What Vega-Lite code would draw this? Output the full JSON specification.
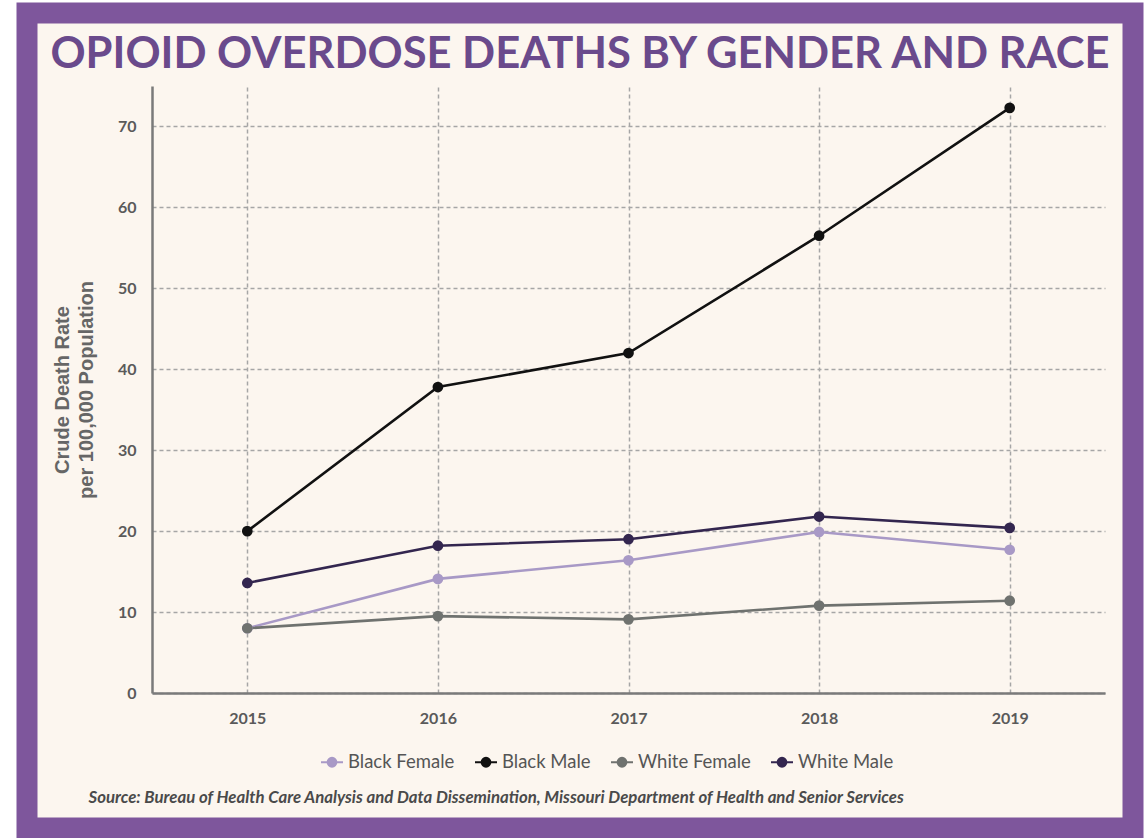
{
  "$schema": "https://vega.github.io/schema/vega-lite/v6.json",
  "autosize": {"type": "none"},
  "width": 1106,
  "height": 815,
  "padding": {"left": 27, "top": 13, "right": 14, "bottom": 10},
  "background": "#ffffff",
  "title": {
    "text": "OPIOID OVERDOSE DEATHS BY GENDER AND RACE",
    "orient": "top",
    "anchor": "middle",
    "dx": 0,
    "offset": -64,
    "font": "Lato",
    "fontSize": 43.5,
    "fontWeight": "bold",
    "color": "#6a4a8c"
  },
  "data": {
    "values": [
      {"year": "2015", "group": "Black Female", "rate": 8.0},
      {"year": "2016", "group": "Black Female", "rate": 14.1},
      {"year": "2017", "group": "Black Female", "rate": 16.4},
      {"year": "2018", "group": "Black Female", "rate": 19.9},
      {"year": "2019", "group": "Black Female", "rate": 17.7},
      {"year": "2015", "group": "Black Male", "rate": 20.0},
      {"year": "2016", "group": "Black Male", "rate": 37.8},
      {"year": "2017", "group": "Black Male", "rate": 42.0},
      {"year": "2018", "group": "Black Male", "rate": 56.5},
      {"year": "2019", "group": "Black Male", "rate": 72.3},
      {"year": "2015", "group": "White Female", "rate": 8.0},
      {"year": "2016", "group": "White Female", "rate": 9.5},
      {"year": "2017", "group": "White Female", "rate": 9.1},
      {"year": "2018", "group": "White Female", "rate": 10.8},
      {"year": "2019", "group": "White Female", "rate": 11.4},
      {"year": "2015", "group": "White Male", "rate": 13.6},
      {"year": "2016", "group": "White Male", "rate": 18.2},
      {"year": "2017", "group": "White Male", "rate": 19.0},
      {"year": "2018", "group": "White Male", "rate": 21.8},
      {"year": "2019", "group": "White Male", "rate": 20.4}
    ]
  },
  "encoding": {
    "y": {
      "field": "rate",
      "type": "quantitative",
      "scale": {"domain": [0, 75], "range": [680, 73], "nice": false, "zero": true},
      "axis": {
        "orient": "left",
        "offset": -125,
        "values": [0, 10, 20, 30, 40, 50, 60, 70],
        "labelFont": "Lato",
        "labelFontWeight": "bold",
        "labelFontSize": 16,
        "labelColor": "#5a5a5a",
        "labelPadding": 16,
        "ticks": false,
        "domainColor": "#7a7a7a",
        "domainWidth": 2.5,
        "grid": true,
        "gridColor": "#a6a6a6",
        "gridDash": [4, 3],
        "gridWidth": 1.5,
        "title": ["Crude Death Rate", "per 100,000 Population"],
        "titleFont": "Liberation Sans",
        "titleFontWeight": "bold",
        "titleFontSize": 20,
        "titleColor": "#666666",
        "titlePadding": 21,
        "titleLineHeight": 24
      }
    }
  },
  "layer": [
    {
      "mark": {"type": "point", "opacity": 0},
      "encoding": {
        "x": {
          "field": "year",
          "type": "ordinal",
          "scale": {"type": "point", "range": [125, 1078], "padding": 0.5},
          "axis": {
            "orient": "top",
            "grid": true,
            "gridColor": "#a6a6a6",
            "gridDash": [4, 3],
            "gridWidth": 1.5,
            "labels": false,
            "ticks": false,
            "domain": false,
            "title": null
          }
        }
      }
    },
    {
      "mark": {"type": "line", "strokeWidth": 2.6, "point": {"filled": true, "size": 115, "opacity": 1}},
      "encoding": {
        "x": {
          "field": "year",
          "type": "ordinal",
          "scale": {"type": "point", "range": [125, 1078], "padding": 0.5},
          "axis": {
            "orient": "bottom",
            "offset": -135,
            "labelAngle": 0,
            "labelFont": "Lato",
            "labelFontWeight": "bold",
            "labelFontSize": 16,
            "labelColor": "#5a5a5a",
            "labelPadding": 17,
            "ticks": false,
            "domainColor": "#7a7a7a",
            "domainWidth": 2.5,
            "grid": false,
            "title": "Source: Bureau of Health Care Analysis and Data Dissemination, Missouri Department of Health and Senior Services",
            "titleFont": "Lato",
            "titleFontStyle": "italic",
            "titleFontWeight": "bold",
            "titleFontSize": 16.8,
            "titleColor": "#4a4a4a",
            "titleAlign": "left",
            "titleAnchor": "start",
            "titleBaseline": "middle",
            "titleX": 61,
            "titleY": 104
          }
        },
        "color": {
          "field": "group",
          "type": "nominal",
          "scale": {
            "domain": ["Black Female", "Black Male", "White Female", "White Male"],
            "range": ["#a899c6", "#111111", "#6f726f", "#33264f"]
          },
          "legend": {
            "orient": "none",
            "legendX": 293,
            "legendY": 737,
            "direction": "horizontal",
            "title": null,
            "columns": 4,
            "columnPadding": 16,
            "labelFont": "Lato",
            "labelFontSize": 18.5,
            "labelColor": "#555555",
            "labelOffset": 4,
            "symbolType": "M-1,0H-0.4M0.4,0H1M0.4,0A0.4,0.4,0,1,1,-0.4,0A0.4,0.4,0,1,1,0.4,0Z",
            "symbolSize": 484,
            "symbolStrokeWidth": 2,
            "encode": {
              "symbols": {"update": {"fill": {"scale": "color", "field": "value"}}}
            }
          }
        }
      }
    }
  ],
  "config": {
    "view": {"fill": "#fcf6ef", "stroke": "#7e569c", "strokeWidth": 21}
  }
}
